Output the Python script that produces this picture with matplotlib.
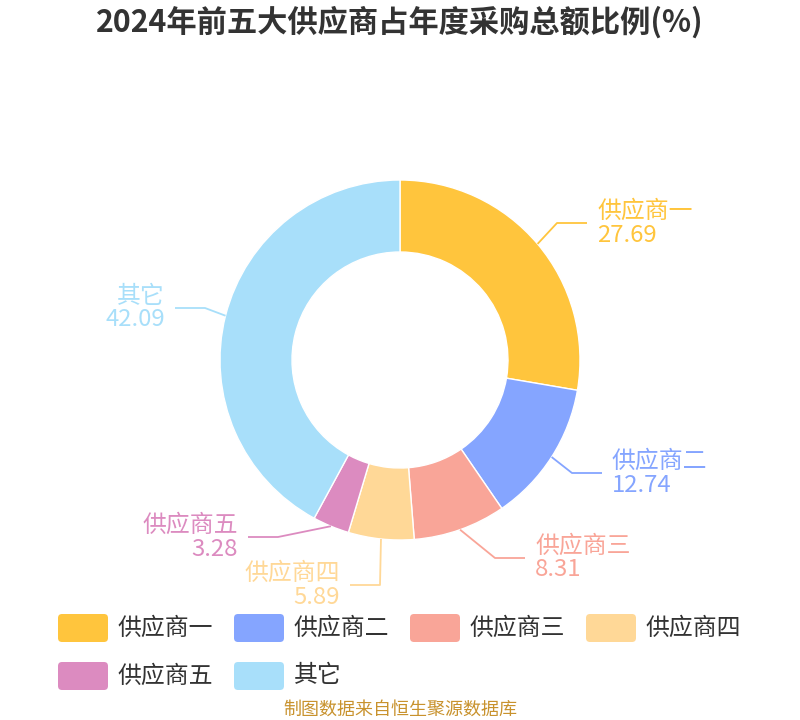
import math
import matplotlib
matplotlib.use("Agg")
import matplotlib.pyplot as plt
from matplotlib.patches import FancyBboxPatch

plt.rcParams['font.family'] = ['Noto Sans CJK SC', 'DejaVu Sans']

title = "2024年前五大供应商占年度采购总额比例(%)"
categories = ["供应商一", "供应商二", "供应商三", "供应商四", "供应商五", "其它"]
values = [27.69, 12.74, 8.31, 5.89, 3.28, 42.09]
value_labels = ["27.69", "12.74", "8.31", "5.89", "3.28", "42.09"]
colors = ["#FFC53D", "#85A5FF", "#F9A598", "#FFD897", "#DC8BC0", "#A8DFFA"]
footer = "制图数据来自恒生聚源数据库"

W, H = 800, 720
fig = plt.figure(figsize=(W / 100, H / 100), dpi=100)
ax = fig.add_axes([0, 0, 1, 1])

def Y(py):
    return H - py

CX, CY, R, R_IN = 400, 360, 180, 108
ax.pie(values, colors=colors, startangle=90, counterclock=False,
       radius=R, center=(CX, Y(CY)),
       wedgeprops=dict(width=R - R_IN, edgecolor="white", linewidth=1))
ax.set_xlim(0, W)
ax.set_ylim(0, H)
ax.set_aspect("equal")
ax.axis("off")

# label layout: elbow point (pixel), side (+1 right, -1 left)
elbows = [(557, 223, 1), (572, 473, 1), (495, 558, 1),
          (380, 585, -1), (278, 537, -1), (205, 308, -1)]
seg = 30
gap = 10
fs_label = 17.2

total = sum(values)
cum = 0.0
for i, v in enumerate(values):
    mid = (cum + v / 2) / total * 360.0
    cum += v
    a = math.radians(mid)
    ex = CX + R * math.sin(a)
    ey = CY - R * math.cos(a)
    bx, by, side = elbows[i]
    endx = bx + side * seg
    ax.plot([ex, bx, endx], [Y(ey), Y(by), Y(by)], color=colors[i], lw=1.3,
            solid_capstyle="butt")
    tx = endx + side * gap
    ha = "left" if side > 0 else "right"
    ax.text(tx, Y(by - 11.5), categories[i], color=colors[i], fontsize=fs_label,
            ha=ha, va="center")
    ax.text(tx, Y(by + 12), value_labels[i], color=colors[i], fontsize=fs_label,
            ha=ha, va="center")

# title
ax.text(400, Y(22), title, fontsize=21.8, fontweight="bold", color="#333333",
        ha="center", va="center")

# legend
lx0, ly = 58, [628, 676]
step = 176
per_row = 4
for i, name in enumerate(categories):
    row, col = divmod(i, per_row)
    x = lx0 + col * step
    yc = ly[row]
    box = FancyBboxPatch((x + 4, Y(yc + 14) + 4), 42, 20,
                         boxstyle="round,pad=4", fc=colors[i], ec="none")
    ax.add_patch(box)
    ax.text(x + 60, Y(yc), name, fontsize=17.2, color="#333333",
            ha="left", va="center")

# footer
ax.text(400, Y(710), footer, fontsize=13, color="#C8922D", ha="center", va="center")

fig.savefig("out.png", dpi=100)
